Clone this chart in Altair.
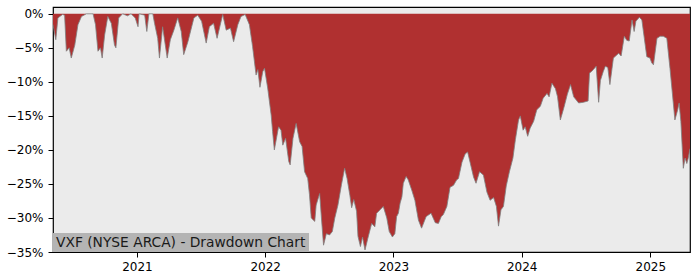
import altair as alt
import pandas as pd

dates = [
    "2020-05-07", "2020-05-15", "2020-05-21", "2020-06-03", "2020-06-09", "2020-06-14",
    "2020-06-22", "2020-06-28", "2020-07-08", "2020-07-17", "2020-07-27", "2020-08-10",
    "2020-08-29", "2020-09-05", "2020-09-12", "2020-09-19", "2020-09-24", "2020-10-01",
    "2020-10-10", "2020-10-20", "2020-10-29", "2020-11-02", "2020-11-10", "2020-11-21",
    "2020-12-05", "2020-12-15", "2020-12-27",
    "2021-01-04", "2021-01-07", "2021-01-23", "2021-01-29", "2021-02-04", "2021-02-15",
    "2021-02-20", "2021-03-01", "2021-03-06", "2021-03-15", "2021-03-28", "2021-04-06",
    "2021-04-16", "2021-04-27", "2021-05-07", "2021-05-14", "2021-05-26", "2021-06-12",
    "2021-06-23", "2021-07-04", "2021-07-17", "2021-07-26", "2021-08-07", "2021-08-17",
    "2021-09-02", "2021-09-12", "2021-09-24", "2021-10-03", "2021-10-15", "2021-10-24",
    "2021-11-05", "2021-11-17", "2021-11-26", "2021-12-06", "2021-12-11", "2021-12-17",
    "2021-12-25", "2021-12-30",
    "2022-01-08", "2022-01-18", "2022-01-22", "2022-01-27", "2022-02-08", "2022-02-15",
    "2022-02-20", "2022-02-28", "2022-03-09", "2022-03-13", "2022-03-21", "2022-03-30",
    "2022-04-09", "2022-04-16", "2022-04-23", "2022-05-02", "2022-05-07", "2022-05-12",
    "2022-05-22", "2022-05-26", "2022-06-05", "2022-06-10", "2022-06-16", "2022-06-24",
    "2022-07-03", "2022-07-11", "2022-07-18", "2022-07-27", "2022-08-06", "2022-08-15",
    "2022-08-22", "2022-08-30", "2022-09-04", "2022-09-10", "2022-09-18", "2022-09-22",
    "2022-09-29", "2022-10-05", "2022-10-12", "2022-10-21", "2022-10-31", "2022-11-09",
    "2022-11-14", "2022-11-24", "2022-12-03", "2022-12-13", "2022-12-20", "2022-12-29",
    "2023-01-05", "2023-01-10", "2023-01-15", "2023-01-20", "2023-01-25", "2023-01-29",
    "2023-02-06", "2023-02-12", "2023-02-22", "2023-03-03", "2023-03-13", "2023-03-22",
    "2023-04-04", "2023-04-18", "2023-04-30", "2023-05-09", "2023-05-17", "2023-05-23",
    "2023-06-02", "2023-06-11", "2023-06-21", "2023-06-30", "2023-07-05", "2023-07-15",
    "2023-07-24", "2023-07-31", "2023-08-07", "2023-08-17", "2023-08-24", "2023-09-03",
    "2023-09-14", "2023-09-24", "2023-10-03", "2023-10-13", "2023-10-21", "2023-10-27",
    "2023-11-03", "2023-11-10", "2023-11-18", "2023-11-27", "2023-12-07", "2023-12-14",
    "2023-12-23", "2023-12-28",
    "2024-01-05", "2024-01-11", "2024-01-18", "2024-01-25", "2024-02-04", "2024-02-13",
    "2024-02-23", "2024-03-02", "2024-03-13", "2024-03-19", "2024-03-27", "2024-04-06",
    "2024-04-12", "2024-04-20", "2024-04-30", "2024-05-10", "2024-05-19", "2024-05-28",
    "2024-06-11", "2024-06-25", "2024-07-08", "2024-07-12", "2024-07-17", "2024-07-23",
    "2024-07-31", "2024-08-07", "2024-08-12", "2024-08-20", "2024-08-26", "2024-09-02",
    "2024-09-08", "2024-09-18", "2024-10-03", "2024-10-10", "2024-10-19", "2024-10-26",
    "2024-11-02", "2024-11-10", "2024-11-16", "2024-11-21", "2024-12-01", "2024-12-08",
    "2024-12-15", "2024-12-22", "2024-12-31",
    "2025-01-05", "2025-01-10", "2025-01-20", "2025-01-29", "2025-02-07", "2025-02-17",
    "2025-02-26", "2025-03-08", "2025-03-12", "2025-03-20", "2025-03-24", "2025-03-29",
    "2025-04-05", "2025-04-10", "2025-04-15", "2025-04-19", "2025-04-24",
]

drawdown = [
    -1.6, -3.8, -0.6, -0.1, -0.2, -5.5,
    -5.0, -6.5, -4.6, -1.6, -0.4, 0.0,
    0.0, -1.6, -5.5, -5.0, -6.5, -3.1,
    -0.4, -1.4, -4.6, -5.0, -0.6, 0.0,
    -0.3, 0.0, -0.6,
    -1.9, 0.0, -0.2, -2.6, 0.0, 0.0,
    -1.4, -3.6, -6.5, -1.9, -6.5, -3.8,
    -2.4, -0.6, -2.6, -6.0, -4.1, -0.6,
    -0.2, -1.1, -4.3, -1.9, -1.4, -3.6,
    -0.1, -2.4, -2.1, -4.1, -1.6, -0.4,
    -0.1, -1.6, -4.8, -9.0, -8.2, -10.8,
    -8.5, -8.0,
    -10.9, -14.9, -17.3, -20.0, -16.6, -17.1,
    -19.3, -18.3, -21.7, -22.2, -18.3, -16.1,
    -18.8, -19.5, -23.2, -24.2, -26.6, -30.0,
    -30.5, -28.1, -26.4, -30.0, -34.0, -32.3,
    -32.5, -32.0, -30.0, -28.1, -25.1, -22.7,
    -24.2, -26.7, -28.5, -27.3, -29.0, -32.7,
    -34.2, -32.8, -34.7, -32.8, -30.8, -31.3,
    -29.3, -28.8, -28.3, -30.0, -32.0, -32.8,
    -32.3, -29.8, -29.3, -27.8, -26.9, -24.9,
    -23.9, -24.4, -25.9, -27.4, -30.3, -31.5,
    -29.8, -29.3, -30.7, -30.8, -29.8, -29.5,
    -28.3, -25.5, -25.2, -24.4, -24.2, -21.8,
    -20.6, -20.3, -21.8, -24.0, -24.9, -23.2,
    -23.7, -26.2, -27.4, -27.0, -28.3, -31.2,
    -28.8, -28.3, -25.3, -23.2, -21.2, -18.5,
    -15.6, -15.0,
    -17.1, -16.6, -18.0, -16.8, -15.8, -14.1,
    -13.6, -12.4, -11.7, -12.2, -10.2, -11.0,
    -12.2, -15.6, -13.8, -11.8, -10.4, -12.2,
    -13.1, -13.0, -12.8, -8.7, -8.5, -8.2,
    -7.7, -13.0, -9.8, -8.5, -7.7, -7.9,
    -10.4, -6.5, -5.8, -6.2, -3.3, -3.9,
    -4.0, -0.9, -2.6, -1.1, -0.5, -0.9,
    -3.6, -6.3, -6.5,
    -7.2, -7.5, -3.6, -3.3, -3.3, -3.6,
    -8.0, -13.4, -15.6, -14.1, -13.1, -15.8,
    -22.7, -21.2, -22.0, -21.2, -19.8,
]

y_ticks = [-35, -30, -25, -20, -15, -10, -5, 0]
x_tick_years = [2021, 2022, 2023, 2024, 2025]
label_text = "VXF (NYSE ARCA) - Drawdown Chart"

df = pd.DataFrame({"date": pd.to_datetime(dates), "dd": drawdown})

FONT = "DejaVu Sans"

x_enc = alt.X(
    "date:T",
    scale=alt.Scale(domain=[dates[0], dates[-1]], nice=False),
    axis=alt.Axis(
        values=[alt.DateTime(year=y, month=1, date=1) for y in x_tick_years],
        tickCount=20,
        format="%Y",
        title=None,
        grid=False,
        domain=False,
        tickSize=5,
        tickColor="black",
        labelColor="black",
        labelFont=FONT,
        labelFontSize=12,
        labelPadding=4,
        labelFlush=False,
        labelOverlap=False,
    ),
)
y_enc = alt.Y(
    "dd:Q",
    scale=alt.Scale(domain=[-35, 1], nice=False, zero=False),
    axis=alt.Axis(
        values=y_ticks,
        tickCount=20,
        labelExpr="(datum.value < 0 ? '\u2212' + abs(datum.value) : '' + datum.value) + '%'",
        title=None,
        grid=False,
        domain=False,
        tickSize=5,
        tickColor="black",
        labelColor="black",
        labelFont=FONT,
        labelFontSize=12,
        labelPadding=5,
        labelOverlap=False,
        labelFlush=False,
        labelBound=False,
    ),
)

area = alt.Chart(df).mark_area(color="#b03030", clip=True, interpolate="linear").encode(
    x=x_enc, y=y_enc, y2=alt.value(0)
)
edge = alt.Chart(df).mark_line(color="#808080", strokeWidth=1, opacity=0.8, clip=True).encode(
    x="date:T", y="dd:Q"
)

one = alt.Data(values=[{"a": 1}])
box = alt.Chart(one).mark_rect(color="#b4b4b4").encode(
    x=alt.value(0), x2=alt.value(256), y=alt.value(226), y2=alt.value(245)
)
txt = alt.Chart(one).mark_text(
    text=label_text, font=FONT, fontSize=13.8, color="#1a1a1a", align="left", baseline="middle"
).encode(x=alt.value(3), y=alt.value(235.5))

chart = alt.layer(area, edge, box, txt).properties(
    width=637,
    height=245,
    autosize=alt.AutoSizeParams(type="none"),
    padding={"left": 53, "top": 7, "right": 10, "bottom": 28},
    background="white",
).configure_view(
    fill="#ebebeb", stroke="black", strokeWidth=1.2
).configure_axis(
    labelOverlap=False
)

chart.save("out.html", embed_options={"renderer": "svg", "actions": False})
